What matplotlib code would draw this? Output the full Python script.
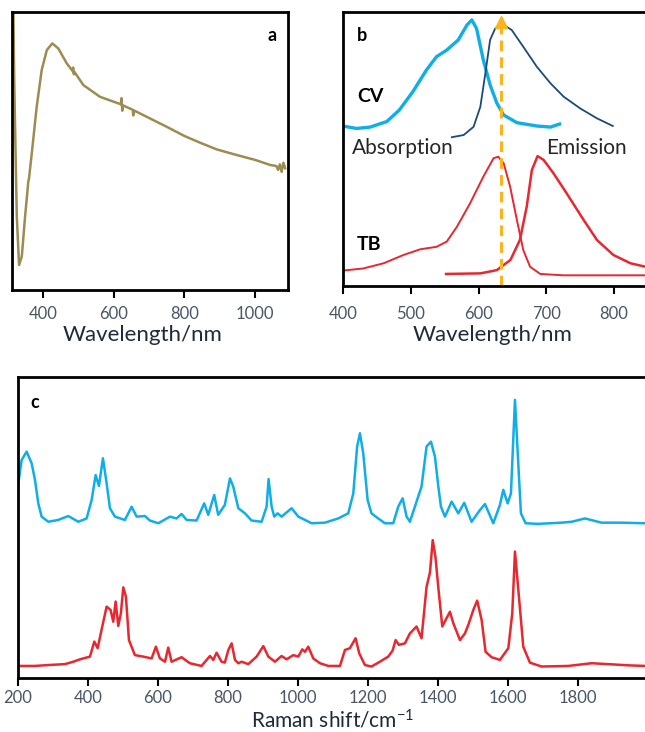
import matplotlib
matplotlib.use("agg")
from matplotlib import pyplot as plt

plt.rcParams["font.family"] = ["Lato", "DejaVu Sans"]
plt.rcParams["mathtext.fontset"] = "custom"
plt.rcParams["mathtext.rm"] = "Lato"
plt.rcParams["mathtext.it"] = "Lato"

TICK_COLOR = "#4a5666"
LABEL_COLOR = "#1f2b3a"

# panel a: extinction spectrum (a.u.)
a_wavelength = [316, 318, 321, 325.6, 332, 339.7, 349, 356, 358, 360, 368, 382, 396, 410.5, 426,
                443, 467, 484, 485, 487, 489, 514, 561, 620, 622, 624, 626, 640, 654, 655, 657,
                702.7, 750, 800, 844, 891, 938, 1000, 1042, 1060, 1065, 1070, 1075, 1080, 1085]
a_signal = [1.0, 0.78, 0.565, 0.264, 0.09, 0.12, 0.264, 0.36, 0.39, 0.40, 0.492, 0.66, 0.791,
            0.863, 0.887, 0.869, 0.815, 0.787, 0.80, 0.776, 0.784, 0.737, 0.695, 0.668, 0.69,
            0.645, 0.664, 0.656, 0.648, 0.628, 0.646, 0.617, 0.587, 0.554, 0.53, 0.506, 0.489,
            0.468, 0.45, 0.446, 0.432, 0.452, 0.425, 0.458, 0.438]

# panel b: CV absorption / emission, TB absorption / emission (normalised, offset)
cv_abs_wl = [399, 420, 440, 464.5, 483, 503, 523, 538, 553, 570, 583, 590, 597, 607, 617, 627,
             637, 656.6, 686, 706, 719.5]
cv_abs = [0.584, 0.575, 0.58, 0.60, 0.642, 0.709, 0.788, 0.837, 0.861, 0.898, 0.953, 0.971,
          0.94, 0.825, 0.734, 0.667, 0.624, 0.596, 0.584, 0.58, 0.591]
cv_em_wl = [560.5, 578, 592.6, 602.6, 610, 617, 624.5, 634, 649, 666, 686, 706, 725.5, 750,
            774.6, 798]
cv_em = [0.543, 0.551, 0.581, 0.654, 0.776, 0.898, 0.94, 0.958, 0.934, 0.873, 0.80, 0.74,
         0.691, 0.648, 0.612, 0.584]
tb_abs_wl = [399, 430, 460, 489, 514, 538, 553, 568, 587.5, 607, 622, 629, 637, 646.6, 656.5,
             666, 676, 691, 725, 850]
tb_abs = [0.056, 0.064, 0.083, 0.113, 0.134, 0.143, 0.162, 0.216, 0.302, 0.399, 0.466, 0.472,
          0.448, 0.362, 0.241, 0.131, 0.07, 0.044, 0.039, 0.039]
tb_em_wl = [552, 602.6, 627, 647, 661, 671, 678.6, 687, 696, 710.6, 730, 755, 774.6, 799, 824,
            850]
tb_em = [0.044, 0.046, 0.058, 0.095, 0.168, 0.289, 0.423, 0.474, 0.46, 0.411, 0.338, 0.241,
         0.168, 0.113, 0.083, 0.068]
laser_wl = 633

# panel c: Raman spectra (a.u., offset)
raman_blue_x = [201, 210.4, 224.7, 239, 248.5, 258, 267.6, 286.6, 315, 343.7, 372.3, 396, 410.4,
                421.8, 431.3, 442.7, 453.2, 462.7, 477, 505.6, 524.6, 538.9, 562.7, 577, 600.8,
                634, 653, 667.4, 681.7, 710.3, 732, 743.6, 760.7, 772, 791, 805.7, 815, 829.5,
                848.5, 867.6, 896, 910.4, 916, 924.7, 932.3, 941.8, 953, 981.8, 1001, 1039,
                1077, 1115, 1143.6, 1158, 1169, 1177, 1186.5, 1199, 1210, 1229.3, 1248.4,
                1272.2, 1286.4, 1299, 1310.3, 1319.8, 1334, 1353, 1367.4, 1380, 1391.4, 1401,
                1408.5, 1420, 1439, 1458, 1475, 1496, 1520, 1534.2, 1558, 1577, 1586.6, 1599,
                1608.5, 1620, 1629.4, 1637, 1650.4, 1686.5, 1753, 1782, 1820, 1867.4, 1924.5,
                1991]
raman_blue = [64.7, 72.4, 75.2, 71.3, 65.8, 58.0, 53.6, 51.9, 52.5, 53.8, 51.9, 53.0, 59.1,
              67.4, 63.8, 73.0, 64.7, 56.4, 53.6, 52.5, 56.9, 53.6, 53.8, 52.3, 51.4, 53.6,
              53.0, 54.5, 52.5, 52.3, 58.0, 54.2, 60.8, 54.2, 57.5, 66.3, 63.6, 56.4, 54.7,
              52.3, 51.9, 56.9, 66.1, 56.9, 53.6, 54.7, 53.6, 56.4, 53.6, 51.4, 51.6, 53.0,
              54.7, 61.3, 76.9, 81.3, 74.6, 59.1, 54.7, 53.0, 51.4, 51.4, 56.9, 59.7, 53.6,
              51.9, 56.9, 63.6, 76.9, 78.5, 73.5, 63.6, 56.9, 53.6, 58.6, 54.7, 58.2, 51.9,
              55.8, 57.8, 51.4, 57.5, 62.5, 58.0, 61.3, 92.4, 71.3, 54.7, 51.4, 51.2, 51.6,
              51.9, 53.0, 51.6, 51.6, 51.4]
raman_red_x = [201, 248.5, 286.6, 334, 358, 377, 405.6, 418, 427.5, 440.8, 453.2, 464.6, 472.2,
               479, 486.5, 494, 500.8, 508.4, 517, 534, 558, 581.7, 594, 605.5, 620, 629.3,
               638.8, 667.4, 691, 724.5, 739, 748.5, 758, 767.4, 781.6, 791, 801, 810.4, 820,
               829.5, 839, 858, 881.8, 901, 915.2, 934.2, 953.2, 967.5, 986.6, 1001, 1012.3,
               1020, 1029.4, 1043.7, 1062.7, 1086.5, 1120, 1134.2, 1148.4, 1164.6, 1175,
               1191.2, 1210, 1234, 1257.9, 1270.3, 1279, 1288.3, 1305.5, 1319.8, 1338.8, 1353,
               1367.4, 1377, 1385, 1393, 1401, 1412.3, 1422, 1434.2, 1443.8, 1462.8, 1477,
               1486.6, 1501, 1512, 1524.7, 1536, 1553.2, 1577, 1601, 1612.3, 1620, 1631.3,
               1643.7, 1662.7, 1696, 1772.2, 1839, 1886.4, 1943.6, 1991]
raman_red = [4.0, 4.0, 4.3, 4.6, 5.4, 6.2, 7.1, 12.1, 9.9, 17.1, 23.7, 22.6, 18.7, 25.4, 17.3,
             21.5, 30.1, 27.0, 12.6, 7.6, 7.1, 6.5, 10.4, 6.5, 5.4, 10.1, 5.4, 6.9, 4.9, 4.0,
             6.0, 7.3, 6.0, 8.4, 5.4, 5.1, 9.3, 11.5, 6.0, 4.9, 5.4, 4.6, 7.1, 10.6, 7.1, 5.4,
             7.3, 6.2, 7.6, 7.1, 9.5, 8.7, 10.4, 6.5, 4.9, 4.0, 4.0, 9.3, 9.9, 13.2, 8.2, 4.3,
             3.8, 5.4, 7.1, 9.1, 12.6, 11.0, 11.5, 14.8, 17.1, 13.2, 30.3, 35.0, 45.8, 40.0,
             30.0, 17.1, 19.3, 22.0, 18.2, 12.6, 14.8, 17.6, 22.6, 25.7, 19.3, 8.7, 6.9, 6.0,
             9.9, 21.5, 42.0, 27.0, 10.4, 5.1, 3.8, 4.0, 4.9, 4.6, 4.2, 4.0]

fig = plt.figure(figsize=(6.45, 7.32), dpi=100)
ax_a = fig.add_axes([0.0186, 0.6038, 0.4279, 0.3798])
ax_b = fig.add_axes([0.5318, 0.6093, 0.4729, 0.3743])
ax_c = fig.add_axes([0.0279, 0.0738, 0.9767, 0.4112])


def style_axes(ax, pad):
    for s in ax.spines.values():
        s.set_linewidth(2.0)
        s.set_color("black")
    ax.set_yticks([])
    ax.tick_params(axis="x", direction="out", length=5.5, width=1.5, color="black",
                   labelsize=12, labelcolor=TICK_COLOR, pad=pad)


# a
ax_a.plot(a_wavelength, a_signal, color="#9c8c52", lw=1.8)
ax_a.set_xlim(312, 1093)
ax_a.set_ylim(0, 1)
ax_a.set_xticks([400, 600, 800, 1000])
style_axes(ax_a, 6)
ax_a.set_xlabel("Wavelength/nm", fontsize=16, color=LABEL_COLOR, va="center")
ax_a.xaxis.set_label_coords(0.473, -0.162)
ax_a.text(0.942, 0.917, "a", transform=ax_a.transAxes, fontsize=13, fontweight="bold",
          ha="center", va="center")

# b
ax_b.plot(cv_abs_wl, cv_abs, color="#10aee8", lw=2.4)
ax_b.plot(cv_em_wl, cv_em, color="#1c4a78", lw=1.3)
ax_b.plot(tb_abs_wl, tb_abs, color="#e8272f", lw=1.4)
ax_b.plot(tb_em_wl, tb_em, color="#e8272f", lw=1.8)
ax_b.plot([laser_wl, laser_wl], [0, 0.955], color="#ffb31a", lw=2.2, dashes=(3.5, 2))
ax_b.plot([laser_wl], [0.962], marker="^", ms=9, color="#ffb31a", lw=0)
ax_b.set_xlim(400, 850)
ax_b.set_ylim(0, 1)
ax_b.set_xticks([400, 500, 600, 700, 800])
style_axes(ax_b, 9)
ax_b.set_xlabel("Wavelength/nm", fontsize=16, color=LABEL_COLOR, va="center")
ax_b.xaxis.set_label_coords(0.49, -0.179)
ax_b.text(0.062, 0.916, "b", transform=ax_b.transAxes, fontsize=13, fontweight="bold",
          ha="center", va="center")
ax_b.text(0.089, 0.69, "CV", transform=ax_b.transAxes, fontsize=14, fontweight="bold",
          ha="center", va="center")
ax_b.text(0.087, 0.15, "TB", transform=ax_b.transAxes, fontsize=14, fontweight="bold",
          ha="center", va="center")
ax_b.text(0.197, 0.504, "Absorption", transform=ax_b.transAxes, fontsize=15,
          color="#262626", ha="center", va="center")
ax_b.text(0.798, 0.504, "Emission", transform=ax_b.transAxes, fontsize=15,
          color="#262626", ha="center", va="center")

# c
ax_c.plot(raman_blue_x, raman_blue, color="#10aee8", lw=1.8)
ax_c.plot(raman_red_x, raman_red, color="#e8272f", lw=1.8)
ax_c.set_xlim(200, 2000)
ax_c.set_ylim(0, 100)
ax_c.set_xticks([200, 400, 600, 800, 1000, 1200, 1400, 1600, 1800])
style_axes(ax_c, 3.5)
ax_c.set_xlabel("Raman shift/cm$^{-1}$", fontsize=15, color=LABEL_COLOR, va="center")
ax_c.xaxis.set_label_coords(0.5, -0.142)
ax_c.text(0.027, 0.915, "c", transform=ax_c.transAxes, fontsize=13, fontweight="bold",
          ha="center", va="center")

fig.savefig("out.png", dpi=100)
